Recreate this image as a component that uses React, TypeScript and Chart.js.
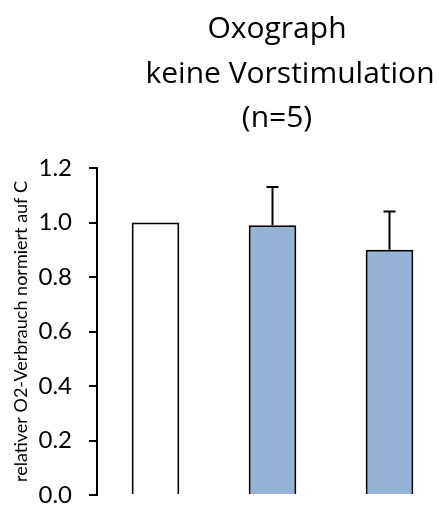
import React, { useEffect, useRef } from "react";
import { Chart, registerables } from "chart.js";

Chart.register(...registerables);

// Oxygen consumption relative to control C, without pre-stimulation
const categories = ["C", "B", "D"];
const meanValues = [1.0, 0.99, 0.9];
const errorValues = [0, 0.14, 0.14];
const barColors = ["#FFFFFF", "#95B3D7", "#95B3D7"];
const titleLines = ["Oxograph", "keine Vorstimulation", "(n=5)"];
const yAxisTitle = "relativer O2-Verbrauch normiert auf C";
const yMin = 0;
const yMax = 1.2;
const yStep = 0.2;

const FONT = "Lato";
const TITLE_FONT = "'Open Sans'";

// Multi-line chart heading, drawn on the canvas
const headingPlugin = {
  id: "heading",
  afterDraw(chart: any) {
    const ctx = chart.ctx;
    const centers = [277, 290, 277];
    const baselines = [38, 82.5, 127];
    ctx.save();
    ctx.fillStyle = "#000";
    ctx.font = `30px ${TITLE_FONT}`;
    ctx.textAlign = "center";
    ctx.textBaseline = "alphabetic";
    titleLines.forEach((line, i) => {
      ctx.fillText(line, centers[i], baselines[i]);
    });
    ctx.restore();
  },
};

// Upper error whiskers with caps
const errorBarPlugin = {
  id: "errorBars",
  afterDatasetsDraw(chart: any) {
    const ctx = chart.ctx;
    const yScale = chart.scales.y;
    const meta = chart.getDatasetMeta(0);
    ctx.save();
    ctx.strokeStyle = "#000";
    ctx.lineWidth = 2;
    meta.data.forEach((el: any, i: number) => {
      if (!errorValues[i]) return;
      const top = yScale.getPixelForValue(meanValues[i] + errorValues[i]);
      const x = el.x;
      ctx.beginPath();
      ctx.moveTo(x, el.y);
      ctx.lineTo(x, top);
      ctx.moveTo(x - 6, top);
      ctx.lineTo(x + 6, top);
      ctx.stroke();
    });
    ctx.restore();
  },
};

export default function App() {
  const canvasRef = useRef<HTMLCanvasElement | null>(null);

  useEffect(() => {
    if (!canvasRef.current) return;
    const chart = new Chart(canvasRef.current, {
      type: "bar",
      data: {
        labels: categories,
        datasets: [
          {
            data: meanValues,
            backgroundColor: barColors,
            borderColor: "#000",
            borderWidth: 2,
            barPercentage: 0.407,
            categoryPercentage: 1,
          },
        ],
      },
      options: {
        animation: false,
        responsive: true,
        maintainAspectRatio: false,
        layout: { padding: { top: 168, left: 0, right: 12, bottom: 14 } },
        plugins: {
          legend: { display: false },
          title: { display: false },
          tooltip: { enabled: false },
        },
        scales: {
          x: { display: false, offset: true },
          y: {
            min: yMin,
            max: yMax,
            afterFit(scale: any) {
              scale.width = 97;
            },
            ticks: {
              stepSize: yStep,
              color: "#000",
              padding: 17,
              font: { family: FONT, size: 24, lineHeight: 1 },
              callback: (v: any) => Number(v).toFixed(1),
            },
            grid: {
              display: true,
              drawOnChartArea: false,
              drawTicks: true,
              tickLength: 8,
              color: "#000",
              lineWidth: 2,
            },
            border: { display: true, color: "#000", width: 2 },
            title: {
              display: true,
              text: yAxisTitle,
              color: "#000",
              font: { family: FONT, size: 18 },
              padding: { top: 10, bottom: 0 },
            },
          },
        },
      },
      plugins: [errorBarPlugin, headingPlugin],
    });
    return () => chart.destroy();
  }, []);

  return (
    <div
      style={{
        position: "absolute",
        left: 0,
        top: 0,
        width: 439,
        height: 524,
        overflow: "hidden",
        background: "#fff",
      }}
    >
      <div style={{ position: "relative", width: 460, height: 524 }}>
        <canvas ref={canvasRef} />
      </div>
    </div>
  );
}
